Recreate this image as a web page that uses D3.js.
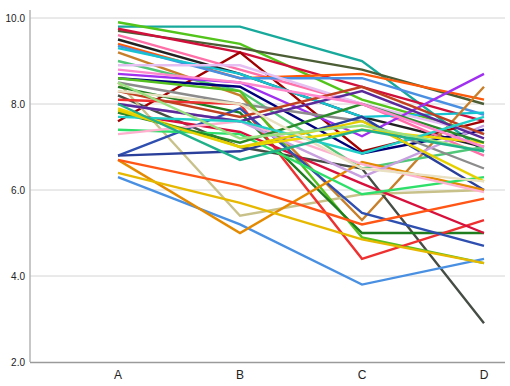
<!DOCTYPE html>
<html><head><meta charset="utf-8">
<script src="https://cdn.jsdelivr.net/npm/d3@7"></script>
<style>body{margin:0;background:#fff}svg{display:block}text{font-family:"Liberation Sans",Arial,sans-serif}</style>
</head><body><svg id="c" width="510" height="386"></svg>
<script>
const categories = ["A","B","C","D"];
const yTicks = [2,4,6,8,10];
const seriesColors = ["#17a99b","#52c41a","#4b5d34","#d0103a","#a00000","#222222","#ff6fa8","#ff5a0a","#4a90e2","#17c3d0",
"#c87f2a","#50c878","#e6bff2","#a030f0","#00007a","#8c8c8c","#454d45","#c9c18a","#55c020","#1e7d1e",
"#ee3030","#d8103c","#2f4fb0","#2a3f9a","#4a90e2","#e38a00","#ff5515","#e6b800","#2ee06a","#ffb0cf",
"#c8a0e0","#f0d800","#2a8a2a","#5a2a9a","#c04020","#20d0c8","#e6d000","#e8e0c0","#98e080","#ff88cc","#20b08a"];
const seriesValues = [
[9.8,9.8,9.0,6.9],[9.9,9.4,8.1,7.3],[9.7,9.3,8.8,8.0],[9.75,9.2,8.4,7.6],[7.6,9.2,6.9,7.6],
[9.5,8.7,7.7,7.0],[9.6,8.8,8.0,6.8],[9.4,8.6,8.7,8.1],[9.35,8.6,8.6,7.75],[9.3,8.7,7.7,7.8],
[9.2,8.2,5.3,8.4],[9.0,8.3,6.5,7.0],[8.9,8.9,8.0,7.3],[8.7,8.5,7.25,8.7],[8.6,8.4,6.85,7.4],
[8.5,8.0,7.6,6.5],[8.2,7.0,6.5,2.9],[8.5,5.4,5.9,6.0],[8.6,8.3,4.9,4.3],[8.4,7.8,5.0,5.0],
[8.1,8.0,4.4,5.3],[7.8,7.35,6.15,5.0],[6.8,7.9,5.47,4.7],[6.8,6.9,7.7,6.0],[6.3,5.2,3.8,4.4],
[6.7,5.0,6.65,6.0],[6.7,6.1,5.2,5.8],[6.4,5.7,4.85,4.3],[7.4,7.3,5.9,6.3],[7.3,7.6,6.6,5.95],
[8.0,7.6,6.3,7.5],[7.9,7.0,7.4,7.1],[7.8,7.1,8.0,7.1],[8.0,7.6,8.3,7.2],[8.3,7.7,8.4,7.3],
[7.7,7.6,6.85,7.7],[7.85,7.0,7.6,6.2],[8.3,8.0,6.5,6.2],[8.5,7.2,7.5,6.9],[8.8,8.5,8.0,7.0],
[8.0,6.7,7.4,6.9]];

const svg = d3.select("#c");
const x = d3.scalePoint().domain(categories).range([118,484]);
const y = d3.scaleLinear().domain([2,10]).range([362,18]);
const left = 30, right = 505;

svg.append("g").selectAll("line").data(yTicks.filter(t=>t>2)).join("line")
  .attr("x1",left).attr("x2",right).attr("y1",d=>y(d)).attr("y2",d=>y(d))
  .attr("stroke","#d4d4d4").attr("stroke-width",1);

const line = d3.line().x((d,i)=>x(categories[i])).y(d=>y(d));
svg.append("g").selectAll("path").data(seriesValues).join("path")
  .attr("d",line).attr("fill","none")
  .attr("stroke",(d,i)=>seriesColors[i]).attr("stroke-width",2.4)
  .attr("stroke-linejoin","miter");

svg.append("line").attr("x1",left).attr("x2",left).attr("y1",10).attr("y2",362)
  .attr("stroke","#b4b4b4").attr("stroke-width",1.5);
svg.append("line").attr("x1",left).attr("x2",right).attr("y1",362.5).attr("y2",362.5)
  .attr("stroke","#9a9a9a").attr("stroke-width",1.5);

svg.append("g").selectAll("text").data(yTicks).join("text")
  .attr("x",25).attr("y",d=>y(d)+4).attr("text-anchor","end")
  .attr("font-size",10).attr("fill","#222").text(d=>d.toFixed(1));
svg.append("g").selectAll("text").data(categories).join("text")
  .attr("x",d=>x(d)).attr("y",379).attr("text-anchor","middle")
  .attr("font-size",12).attr("fill","#222").text(d=>d);
</script></body></html>
